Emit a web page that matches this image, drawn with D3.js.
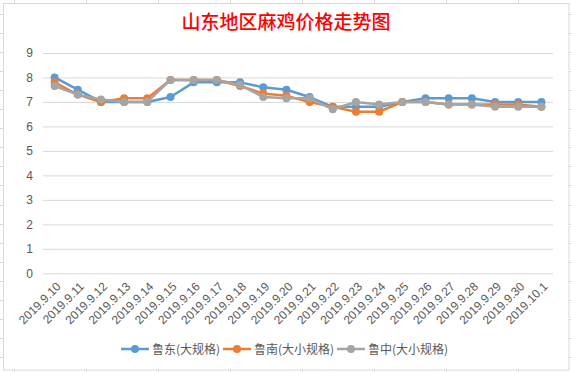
<!DOCTYPE html>
<html><head><meta charset="utf-8">
<script src="https://cdn.jsdelivr.net/npm/d3@7"></script>
<style>body{margin:0;background:#fff;}svg{display:block;}</style>
</head><body>
<script>
const categories = ["2019.9.10","2019.9.11","2019.9.12","2019.9.13","2019.9.14","2019.9.15","2019.9.16","2019.9.17","2019.9.18","2019.9.19","2019.9.20","2019.9.21","2019.9.22","2019.9.23","2019.9.24","2019.9.25","2019.9.26","2019.9.27","2019.9.28","2019.9.29","2019.9.30","2019.10.1"];
const seriesNames = ["鲁东(大规格)","鲁南(大小规格)","鲁中(大小规格)"];
const ludong  = [8.0,7.5,7.0,7.0,7.0,7.2,7.8,7.8,7.8,7.6,7.5,7.2,6.8,6.8,6.8,7.0,7.15,7.15,7.15,7.0,7.0,7.0];
const lunan   = [7.8,7.3,7.0,7.15,7.15,7.9,7.9,7.9,7.65,7.35,7.25,7.0,6.8,6.6,6.6,7.0,7.0,6.9,6.9,6.9,6.9,6.8];
const luzhong = [7.65,7.3,7.1,7.0,7.0,7.9,7.9,7.9,7.7,7.2,7.15,7.15,6.7,7.0,6.9,7.0,7.0,6.9,6.9,6.8,6.8,6.8];
const yTicks = [0,1,2,3,4,5,6,7,8,9];
const title = "山东地区麻鸡价格走势图";

const W = 571, H = 372;
const colors = ["#5B9BD5","#ED7D31","#A5A5A5"];
const series = [ludong, lunan, luzhong];

const svg = d3.select("body").append("svg").attr("width", W).attr("height", H);

// spreadsheet gridlines behind chart
const sheet = svg.append("g").attr("stroke", "#d9d9d9").attr("stroke-width", 1);
d3.range(14, W, 72).forEach(x => sheet.append("line").attr("x1", x + 0.5).attr("x2", x + 0.5).attr("y1", 0).attr("y2", H));
d3.range(0, 20).map(k => 14 + 19.05 * k).forEach(y => sheet.append("line").attr("x1", 0).attr("x2", W).attr("y1", Math.round(y) + 0.5).attr("y2", Math.round(y) + 0.5));

// chart area
svg.append("rect").attr("x", 3.5).attr("y", 3.5).attr("width", 565.5).attr("height", 366.5)
  .attr("fill", "#fff").attr("stroke", "#d9d9d9").attr("stroke-width", 1);

const plot = {left: 43, right: 553, top: 53, bottom: 273.3};
const x = d3.scaleBand().domain(categories).range([plot.left, plot.right]);
const y = d3.scaleLinear().domain([0, 9]).range([plot.bottom, plot.top]);

// title
svg.append("text").attr("x", 286).attr("y", 29).attr("text-anchor", "middle")
  .attr("fill", "#FF0000").attr("font-family", "'Noto Sans CJK SC'").attr("font-size", 19).attr("font-weight", 500)
  .text(title);

// y axis
const yAxis = d3.axisLeft(y).tickValues(yTicks).tickSize(-(plot.right - plot.left)).tickPadding(10);
const gy = svg.append("g").attr("transform", `translate(${plot.left},0)`).call(yAxis);
gy.select(".domain").remove();
gy.selectAll(".tick line").attr("stroke", "#d9d9d9").attr("stroke-width", 1);
gy.selectAll(".tick text").attr("fill", "#595959").attr("font-family", "'Liberation Sans', sans-serif").attr("font-size", 12);

// x axis labels
const xAxis = d3.axisBottom(x).tickSize(0).tickPadding(0);
const gx = svg.append("g").attr("transform", `translate(0,${plot.bottom})`).call(xAxis);
gx.select(".domain").remove();
gx.selectAll(".tick text")
  .attr("fill", "#595959").attr("font-family", "'Liberation Sans', sans-serif").attr("font-size", 12)
  .attr("text-anchor", "end").attr("dy", null).attr("y", 0)
  .attr("transform", "translate(7,14) rotate(-45)");

// lines + markers
const line = d3.line().x((d, i) => x(categories[i]) + x.bandwidth() / 2).y(d => y(d));
series.forEach((s, si) => {
  const g = svg.append("g");
  g.append("path").datum(s).attr("d", line).attr("fill", "none")
    .attr("stroke", colors[si]).attr("stroke-width", 2.5).attr("stroke-linejoin", "round").attr("stroke-linecap", "round");
  g.selectAll("circle").data(s).join("circle")
    .attr("cx", (d, i) => x(categories[i]) + x.bandwidth() / 2).attr("cy", d => y(d))
    .attr("r", 4).attr("fill", colors[si]);
});

// legend
const legendX = [121, 223, 337];
const lg = svg.append("g");
seriesNames.forEach((n, i) => {
  const g = lg.append("g").attr("transform", `translate(${legendX[i]},349)`);
  g.append("line").attr("x1", 0).attr("x2", 28).attr("y1", 0).attr("y2", 0).attr("stroke", colors[i]).attr("stroke-width", 2.5);
  g.append("circle").attr("cx", 14).attr("cy", 0).attr("r", 4).attr("fill", colors[i]);
  g.append("text").attr("x", 31).attr("y", 4.5).attr("fill", "#595959")
    .attr("font-family", "'Noto Sans CJK SC'").attr("font-size", 12).text(n);
});
</script>
</body></html>
